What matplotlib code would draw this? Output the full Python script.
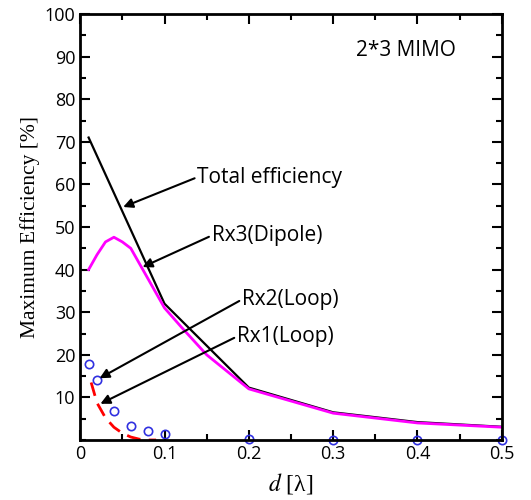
import matplotlib
matplotlib.use('Agg')
import matplotlib.pyplot as plt
from matplotlib.ticker import MultipleLocator

plt.rcParams['mathtext.fontset'] = 'stix'

# data
d_total = [0.01, 0.04, 0.07, 0.1, 0.2, 0.3, 0.4, 0.5]
total_eff = [71, 58, 45, 32, 12.3, 6.5, 4.2, 3.1]

d_rx3 = [0.01, 0.02, 0.03, 0.04, 0.05, 0.06, 0.08, 0.1, 0.12, 0.15, 0.2, 0.3, 0.4, 0.5]
rx3_eff = [40, 43.5, 46.5, 47.6, 46.5, 45, 38, 31, 26.5, 20, 12, 6.3, 4, 3]

d_rx2 = [0.01, 0.02, 0.04, 0.06, 0.08, 0.1, 0.2, 0.3, 0.4, 0.5]
rx2_eff = [17.8, 14.0, 6.9, 3.4, 2.0, 1.4, 0.2, 0.1, 0.1, 0.1]

d_rx1 = [0.013, 0.02, 0.03, 0.04, 0.05, 0.06, 0.07, 0.08, 0.09]
rx1_eff = [13.5, 8.7, 5.2, 3.0, 1.6, 0.7, 0.2, 0.0, 0.0]

fig = plt.figure(figsize=(5.31, 5.0), dpi=100)
ax = fig.add_axes([0.151, 0.12, 0.794, 0.852])

ax.plot(d_total, total_eff, color='black', lw=1.6)
ax.plot(d_rx3, rx3_eff, color='#ff00ff', lw=2)
ax.plot(d_rx1, rx1_eff, color='red', lw=2, ls=(0, (5, 3)))
ax.plot(d_rx2, rx2_eff, 'o', mfc='none', mec='#3030e0', ms=6, mew=1.2, clip_on=False)

ax.set_xlim(0, 0.5)
ax.set_ylim(0, 100)
ax.xaxis.set_minor_locator(MultipleLocator(0.05))
ax.yaxis.set_minor_locator(MultipleLocator(5))
ax.set_xticks([0, 0.1, 0.2, 0.3, 0.4, 0.5])
ax.set_xticklabels(['0', '0.1', '0.2', '0.3', '0.4', '0.5'])
ax.set_yticks(range(10, 101, 10))
ax.tick_params(which='both', direction='in', top=True, right=True, width=1.5)
ax.tick_params(which='major', length=7, labelsize=13)
ax.tick_params(which='minor', length=4)
for lab in ax.get_xticklabels() + ax.get_yticklabels():
    lab.set_family('Open Sans')
for s in ax.spines.values():
    s.set_linewidth(2)

ax.set_ylabel('Maximum Efficiency [%]', family='Liberation Serif', fontsize=15.5, labelpad=3)
ax.set_xlabel(r'$d$ [λ]', family='Liberation Serif', fontsize=17, labelpad=6)

arrow = dict(arrowstyle='-|>', color='black', lw=1.5, mutation_scale=14,
             shrinkA=0, shrinkB=0, relpos=(0, 0.5))
txt = dict(fontsize=15, family='Open Sans', va='center', ha='left')
ax.annotate('Total efficiency', xy=(0.051, 54.7), xytext=(0.139, 61.7), arrowprops=arrow, **txt)
ax.annotate('Rx3(Dipole)', xy=(0.074, 40.6), xytext=(0.156, 48), arrowprops=arrow, **txt)
ax.annotate('Rx2(Loop)', xy=(0.023, 14.5), xytext=(0.192, 33), arrowprops=arrow, **txt)
ax.annotate('Rx1(Loop)', xy=(0.024, 8.5), xytext=(0.186, 24.3), arrowprops=arrow, **txt)
ax.text(0.386, 91.5, '2*3 MIMO', fontsize=15, family='Open Sans', ha='center', va='center')

fig.savefig('out.png', dpi=100)
